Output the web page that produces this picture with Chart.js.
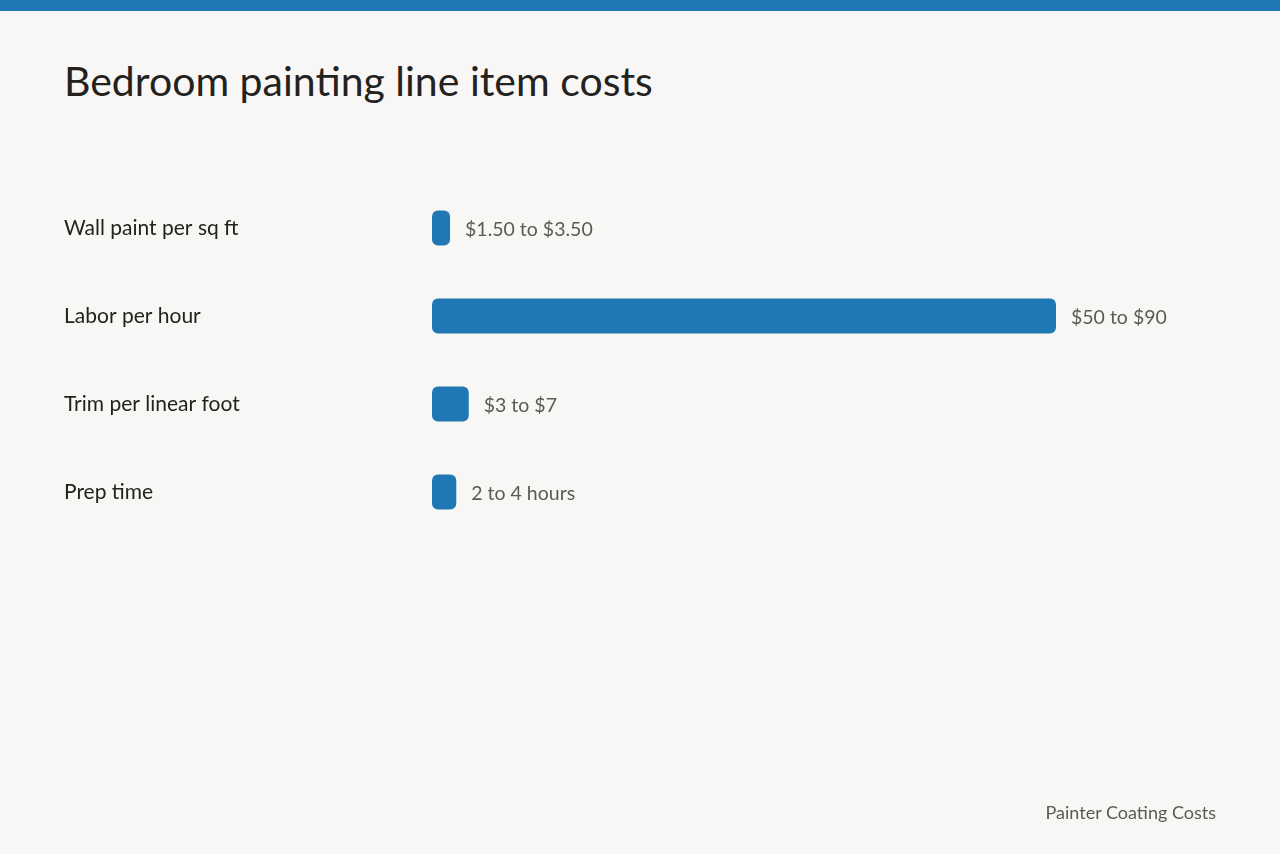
<!DOCTYPE html>
<html>
<head>
<meta charset="utf-8">
<script src="https://cdn.jsdelivr.net/npm/chart.js@4"></script>
<style>
    html, body { margin: 0; padding: 0; background: #f8f7f5; }
    #page { position: relative; width: 1280px; height: 854px; overflow: hidden; background: #f8f7f5; font-family: Lato, "Noto Sans", sans-serif; }
    #stripe { position: absolute; left: 0; top: 0; width: 1280px; height: 11px; background: #1f77b4; }
    #title { position: absolute; left: 64px; top: 56px; font-size: 41px; color: #23221e; white-space: nowrap; }
    #source { position: absolute; right: 64px; top: 801px; font-size: 18px; color: #5b5a53; }
    #wrap { position: absolute; left: 0; top: 0; width: 1280px; height: 854px; }
</style>
</head>
<body>
<div id="page">
    <div id="stripe"></div>
    <div id="title">Bedroom painting line item costs</div>
    <div id="wrap"><canvas id="costs"></canvas></div>
    <div id="source">Painter Coating Costs</div>
</div>
<script>
const categories = ['Wall paint per sq ft', 'Labor per hour', 'Trim per linear foot', 'Prep time'];
const barValues = [2.6, 90, 5.3, 3.5];
const rangeLabels = ['$1.50 to $3.50', '$50 to $90', '$3 to $7', '2 to 4 hours'];

const barColor = '#1f77b4';

// writes the range text just right of each bar
const rangeLabelPlugin = {
    id: 'rangeLabels',
    afterDatasetsDraw(chart) {
        let ctx = chart.ctx;
        let meta = chart.getDatasetMeta(0);
        ctx.save();
        ctx.font = '19.5px Lato, "Noto Sans", sans-serif';
        ctx.fillStyle = '#5b5a53';
        ctx.textAlign = 'left';
        ctx.textBaseline = 'middle';
        meta.data.forEach(function (bar, i) {
            ctx.fillText(rangeLabels[i], bar.x + 15, bar.y + 2);
        });
        ctx.restore();
    }
};

let context = document.getElementById('costs').getContext('2d');
window.costChart = new Chart(context, {
    type: 'bar',
    data: {
        labels: categories,
        datasets: [{
            data: barValues,
            backgroundColor: barColor,
            borderRadius: 6,
            borderSkipped: false,
            categoryPercentage: 1,
            barPercentage: 0.4
        }]
    },
    options: {
        indexAxis: 'y',
        responsive: true,
        maintainAspectRatio: false,
        animation: false,
        layout: {
            padding: { left: 64, right: 224, top: 184, bottom: 318 }
        },
        plugins: {
            legend: { display: false },
            tooltip: { enabled: false }
        },
        scales: {
            x: {
                display: false,
                min: 0,
                max: 90
            },
            y: {
                grid: { display: false },
                border: { display: false },
                ticks: {
                    crossAlign: 'far',
                    color: '#23221e',
                    padding: 0,
                    font: { family: 'Lato, "Noto Sans", sans-serif', size: 21, lineHeight: 1.1 }
                },
                afterFit(scale) {
                    scale.width = 368;
                }
            }
        }
    },
    plugins: [rangeLabelPlugin]
});
</script>
</body>
</html>
